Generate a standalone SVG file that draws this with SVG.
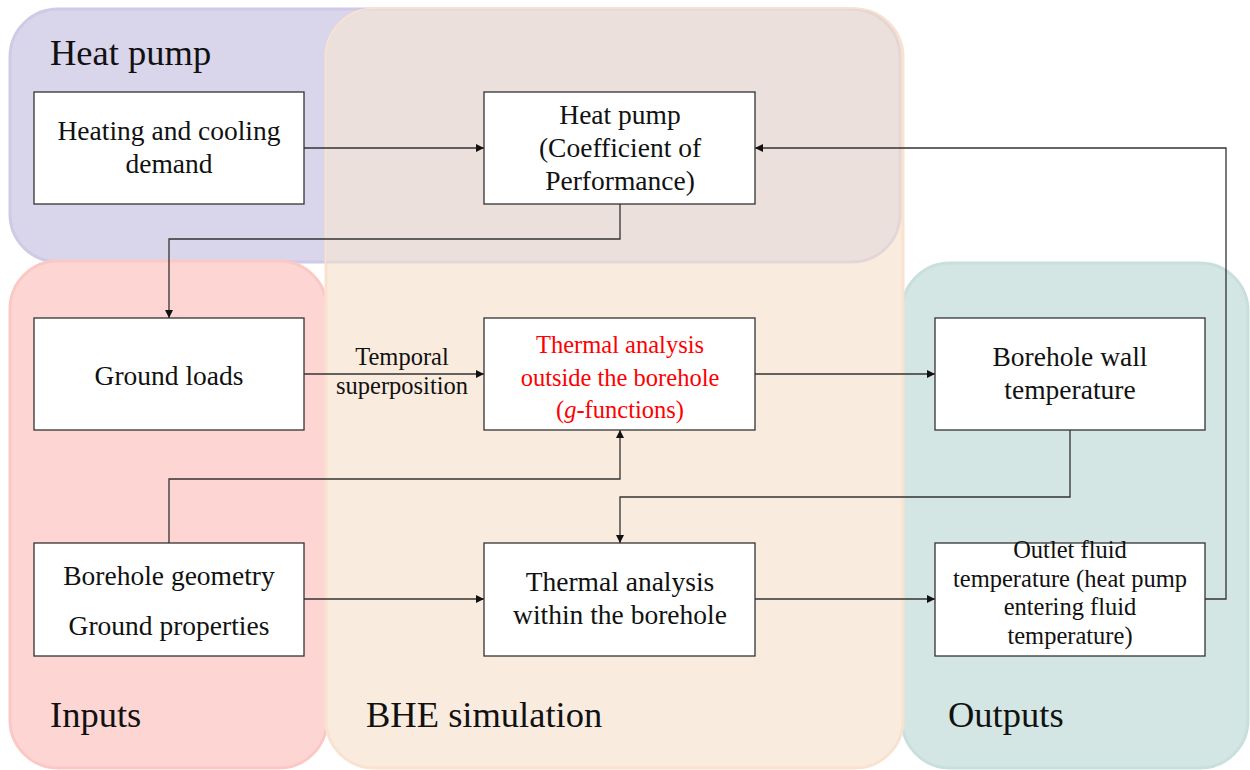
<svg xmlns="http://www.w3.org/2000/svg" width="1250" height="770" viewBox="0 0 1250 770">
<style>
.node{fill:#fff;stroke:#333;stroke-width:1.3}
.t{font-family:"Liberation Serif","Times New Roman",serif;font-size:27.5px;fill:#111;text-anchor:middle}
.red{fill:#f00;font-size:24.5px}
.sm{font-size:24.5px}
.grp{font-family:"Liberation Serif","Times New Roman",serif;font-size:36.5px;fill:#111}
.c{fill:none;stroke:#333;stroke-width:1.3}
</style>
<defs>
<marker id="ah" viewBox="0 0 10 10" refX="10" refY="5" markerWidth="9" markerHeight="8" markerUnits="userSpaceOnUse" orient="auto">
<path d="M0,0 L10,5 L0,10 z" fill="#111"/>
</marker>
<clipPath id="bheClip"><rect x="326" y="9" width="577" height="759" rx="48"/></clipPath>
</defs>
<g id="regions">
<rect id="region-heatpump" x="10" y="9" width="890" height="253" rx="48" fill="#d9d5ea" stroke="#cfcae5" stroke-width="3"/>
<rect id="region-inputs" x="10" y="261" width="317" height="507" rx="48" fill="#fdd5d3" stroke="#fcc8c5" stroke-width="3"/>
<rect id="region-outputs" x="902" y="263" width="346" height="505" rx="48" fill="#d3e6e3" stroke="#c8dfdb" stroke-width="3"/>
<rect id="region-bhe" x="326" y="9" width="577" height="759" rx="48" fill="#faebdf" stroke="#f9e2cf" stroke-width="3"/>
<rect x="10" y="9" width="890" height="253" rx="48" fill="#ece0dc" stroke="#e5d6d6" stroke-width="3" clip-path="url(#bheClip)"/>
<text class="grp" x="50" y="65">Heat pump</text>
<text class="grp" x="50" y="727">Inputs</text>
<text class="grp" x="366" y="727">BHE simulation</text>
<text class="grp" x="948" y="727">Outputs</text>
</g>
<g id="connectors">
<path class="c" d="M304,148 H484" marker-end="url(#ah)"/>
<path class="c" d="M620,204 V239 H169 V318" marker-end="url(#ah)"/>
<path class="c" d="M304,374 H484" marker-end="url(#ah)"/>
<text class="t sm" x="402" y="365">Temporal</text>
<text class="t sm" x="402" y="394">superposition</text>
<path class="c" d="M169,543 V479 H620 V430" marker-end="url(#ah)"/>
<path class="c" d="M304,599 H484" marker-end="url(#ah)"/>
<path class="c" d="M755,374 H935" marker-end="url(#ah)"/>
<path class="c" d="M1070,430 V497 H620 V543" marker-end="url(#ah)"/>
<path class="c" d="M755,599 H935" marker-end="url(#ah)"/>
<path class="c" d="M1205,599 H1226 V148 H755" marker-end="url(#ah)"/>
</g>
<g id="node-demand">
<rect class="node" x="34" y="92" width="270" height="112"/>
<text class="t" x="169" y="140">Heating and cooling</text>
<text class="t" x="169" y="173">demand</text>
</g>
<g id="node-heatpump">
<rect class="node" x="484" y="92" width="271" height="112"/>
<text class="t" x="620" y="124">Heat pump</text>
<text class="t" x="620" y="157">(Coefficient of</text>
<text class="t" x="620" y="190">Performance)</text>
</g>
<g id="node-groundloads">
<rect class="node" x="34" y="318" width="270" height="112"/>
<text class="t" x="169" y="385">Ground loads</text>
</g>
<g id="node-outside">
<rect class="node" x="484" y="318" width="271" height="112"/>
<text class="t red" x="620" y="353">Thermal analysis</text>
<text class="t red" x="620" y="386">outside the borehole</text>
<text class="t red" x="620" y="418">(<tspan font-style="italic">g</tspan>-functions)</text>
</g>
<g id="node-wall">
<rect class="node" x="935" y="318" width="270" height="112"/>
<text class="t" x="1070" y="366">Borehole wall</text>
<text class="t" x="1070" y="399">temperature</text>
</g>
<g id="node-geometry">
<rect class="node" x="34" y="543" width="270" height="113"/>
<text class="t" x="169" y="585">Borehole geometry</text>
<text class="t" x="169" y="635">Ground properties</text>
</g>
<g id="node-within">
<rect class="node" x="484" y="543" width="271" height="113"/>
<text class="t" x="620" y="591">Thermal analysis</text>
<text class="t" x="620" y="624">within the borehole</text>
</g>
<g id="node-outlet">
<rect class="node" x="935" y="543" width="270" height="113"/>
<text class="t sm" x="1070" y="558">Outlet fluid</text>
<text class="t sm" x="1070" y="587">temperature (heat pump</text>
<text class="t sm" x="1070" y="615">entering fluid</text>
<text class="t sm" x="1070" y="644">temperature)</text>
</g>
</svg>
